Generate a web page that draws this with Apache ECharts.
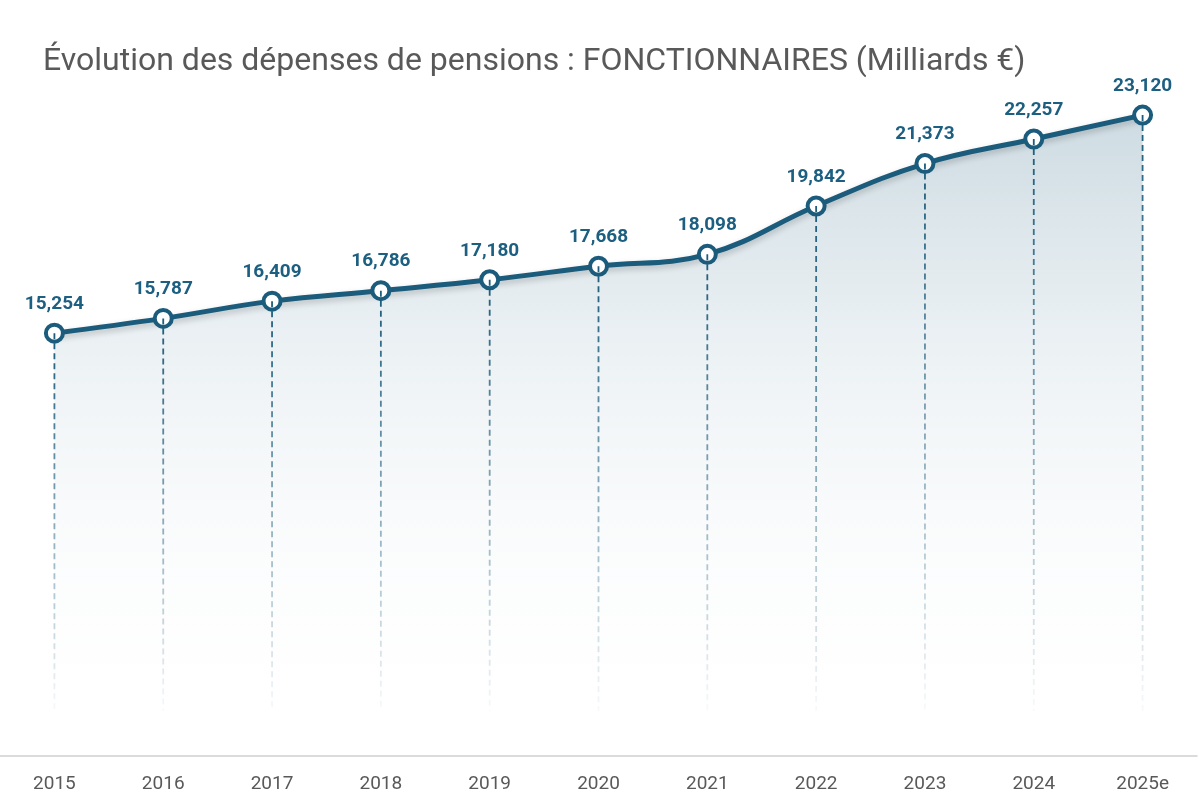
<!DOCTYPE html>
<html>
<head>
<meta charset="utf-8">
<script src="https://cdn.jsdelivr.net/npm/echarts@6/dist/echarts.min.js"></script>
<style>
html,body{margin:0;padding:0;background:#fff;}
#chart{width:1200px;height:799px;}
</style>
</head>
<body>
<div id="chart"></div>
<script>
const titleText = 'Évolution des dépenses de pensions : FONCTIONNAIRES (Milliards €)';
const categories = ['2015','2016','2017','2018','2019','2020','2021','2022','2023','2024','2025e'];
const values = [15.254, 15.787, 16.409, 16.786, 17.180, 17.668, 18.098, 19.842, 21.373, 22.257, 23.120];
const labelTexts = ['15,254','15,787','16,409','16,786','17,180','17,668','18,098','19,842','21,373','22,257','23,120'];

const mainColor = '#1b5b7b';
const chart = echarts.init(document.getElementById('chart'));

chart.setOption({
  animation: false,
  backgroundColor: '#ffffff',
  title: {
    text: titleText,
    left: 38,
    top: 41,
    textStyle: {
      fontFamily: 'Roboto, sans-serif',
      fontSize: 32,
      fontWeight: 'normal',
      color: '#595959'
    }
  },
  grid: { left: -3, right: 3, top: 63, bottom: 43, containLabel: false },
  xAxis: {
    type: 'category',
    data: categories,
    boundaryGap: true,
    axisLine: { show: true, lineStyle: { color: '#d0d0d0', width: 1.5 } },
    axisTick: { show: false },
    axisLabel: {
      margin: 19,
      fontFamily: 'Roboto, sans-serif',
      fontSize: 19,
      color: '#595959'
    },
    splitLine: { show: false }
  },
  yAxis: {
    type: 'value',
    min: 0,
    max: 25,
    show: false,
    splitLine: { show: false }
  },
  series: [
    {
      type: 'line',
      data: values,
      smooth: 0.4,
      z: 2,
      symbol: 'circle',
      symbolSize: 17,
      itemStyle: { color: '#ffffff', borderColor: mainColor, borderWidth: 4 },
      lineStyle: {
        color: mainColor, width: 5,
        shadowColor: 'rgba(0,0,0,0.22)', shadowBlur: 6, shadowOffsetY: 3
      },
      areaStyle: {
        color: new echarts.graphic.LinearGradient(0, 0, 0, 1, [
          { offset: 0, color: 'rgba(27,91,123,0.31)' },
          { offset: 0.16, color: 'rgba(27,91,123,0.22)' },
          { offset: 0.36, color: 'rgba(27,91,123,0.12)' },
          { offset: 0.5, color: 'rgba(27,91,123,0.07)' },
          { offset: 0.7, color: 'rgba(27,91,123,0.025)' },
          { offset: 0.9, color: 'rgba(27,91,123,0)' },
          { offset: 1, color: 'rgba(27,91,123,0)' }
        ])
      },
      label: {
        show: true,
        position: 'top',
        distance: 9,
        fontFamily: 'Roboto, sans-serif',
        fontWeight: 'bold',
        fontSize: 19,
        color: '#1d5f80',
        formatter: p => labelTexts[p.dataIndex]
      }
    },
    {
      type: 'custom',
      z: 3,
      silent: true,
      data: values.map((v, i) => [i, v]),
      renderItem: function (params, api) {
        const top = api.coord([api.value(0), api.value(1)]);
        const bottom = api.coord([api.value(0), 0]);
        const endY = bottom[1] - 45;
        return {
          type: 'line',
          shape: { x1: top[0], y1: top[1], x2: top[0], y2: endY },
          style: {
            lineWidth: 1.8,
            lineDash: [6, 4],
            stroke: new echarts.graphic.LinearGradient(top[0], top[1], top[0], endY, [
              { offset: 0, color: 'rgba(27,91,123,1)' },
              { offset: 1, color: 'rgba(27,91,123,0.03)' }
            ], true)
          }
        };
      }
    }
  ]
});
</script>
</body>
</html>
